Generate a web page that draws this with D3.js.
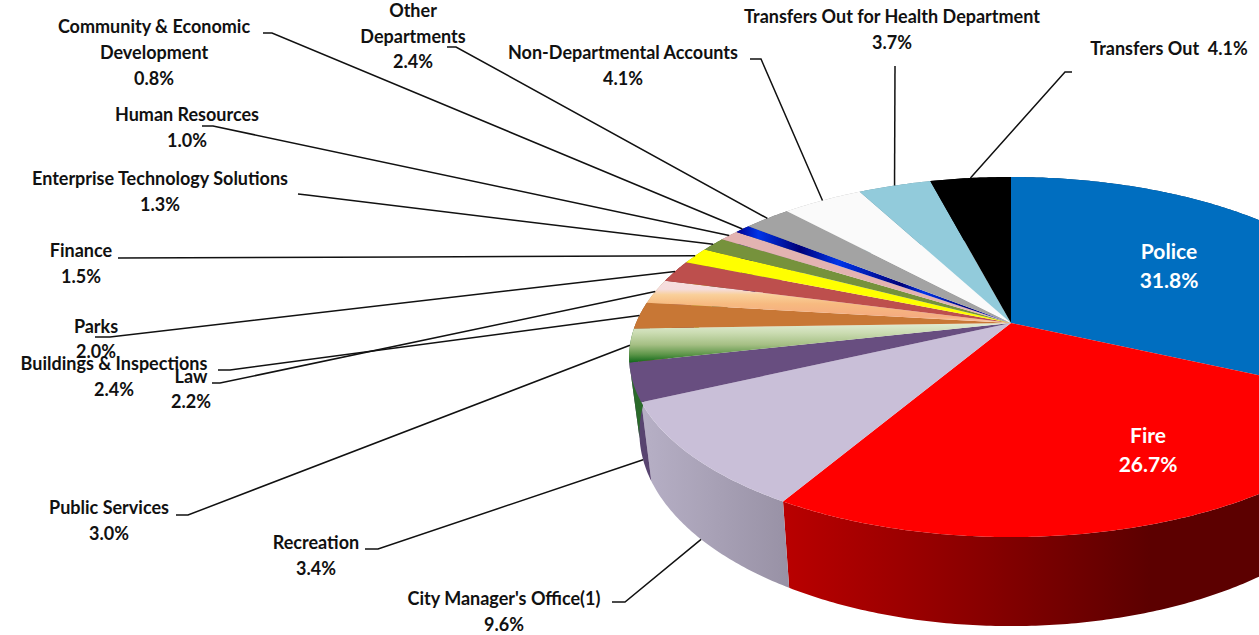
<!DOCTYPE html>
<html><head><meta charset="utf-8">
<script src="https://cdnjs.cloudflare.com/ajax/libs/d3/7.8.5/d3.min.js"></script>
<style>html,body{margin:0;padding:0;background:#fff;overflow:hidden}svg{display:block}
text{font-family:Lato,"Open Sans",sans-serif;font-weight:700;fill:#111}</style>
</head><body><div id="chart"></div>
<script>
// ---------- data ----------
const categories = ["Police","Fire","City Manager's Office(1)","Recreation","Public Services","Buildings & Inspections","Law","Parks","Finance","Enterprise Technology Solutions","Human Resources","Community & Economic Development","Other Departments","Non-Departmental Accounts","Transfers Out for Health Department","Transfers Out"];
const shares = [31.8,26.7,9.6,3.4,3.0,2.4,2.2,2.0,1.5,1.3,1.0,0.8,2.4,4.1,3.7,4.1];
const shareLabels = shares.map(d => d.toFixed(1) + "%");

// ---------- style ----------
const faceFills = ["#006ec0","#ff0000","#c9bfd8","#684e80","url(#gGreen)","#c87735","url(#gPeach)","#bd4f4d","#ffff00","#76923c","#e3b3b1","url(#gBlue)","#a3a3a3","#fafafa","#92cbdb","#000000"];
const wallFills = ["#003a66","url(#wRed)","url(#wLav)","#584470","#2a6a2a","#8a5020","#c09060","#803432","#a0a000","#4e6228","#a07a78","#000070","#707070","#b0b0b0","#60909c","#000000"];

// label layout: text-line centres, leader start and elbow; the leader end comes from the pie
const labelLayout = [
 {lines:["Police"],cx:1169,ys:[252,281],white:true},
 {lines:["Fire"],cx:1148,ys:[436,465],white:true},
 {lines:["City Manager's Office(1)"],cx:504,ys:[599,625],lead:[[612,602],[625,602]],wall:true},
 {lines:["Recreation"],cx:316,ys:[543,569],lead:[[365,549],[378,549]],wall:true},
 {lines:["Public Services"],cx:109,ys:[508,534],lead:[[176,515],[188,515]]},
 {lines:["Buildings & Inspections"],cx:114,ys:[364,390],lead:[[218,370],[230,370]]},
 {lines:["Law"],cx:191,ys:[377,402],lead:[[212,383],[220,383]]},
 {lines:["Parks"],cx:96,ys:[327,352],lead:[[95,337],[110,337]]},
 {lines:["Finance"],cx:81,ys:[251,277],lead:[[118,258],[410,257]]},
 {lines:["Enterprise Technology Solutions"],cx:160,ys:[179,205],lead:[[298,194],[307,195]]},
 {lines:["Human Resources"],cx:187,ys:[115,141],lead:[[202,126],[213,126]]},
 {lines:["Community & Economic","Development"],cx:154,ys:[27,53,79],lead:[[263,33],[272,33]]},
 {lines:["Other","Departments"],cx:413,ys:[11,37,62],lead:[[447,47],[456,47]]},
 {lines:["Non-Departmental Accounts"],cx:623,ys:[53,79],lead:[[750,59],[761,59]]},
 {lines:["Transfers Out for Health Department"],cx:892,ys:[17,43],lead:[[895,66],[895,66]]},
 {lines:["Transfers Out  4.1%"],cx:1169,ys:[49],lead:[[1072,72],[1065,72]],inline:true}
];

// ---------- perspective pie ----------
const W = 1259, H = 635;
const cx = 1011, cy = 323, k = 0.189, A = 173.6, B = 375;
const rimTop = t => {
  const u = Math.sin(t), v = -Math.cos(t), d = 1 - k * v;
  return [cx + B * u / d, cy + A * v / d];
};
const rimLow = t => {
  const [x, y] = rimTop(t);
  return [cx + 0.973 * (x - cx), y + 79 + (y - 403) * 0.075];
};
const pieGen = d3.pie().sort(null).value(d => d);
const arcs = pieGen(shares);
const samples = (a, b) => {
  const n = Math.max(4, Math.ceil((b - a) / 0.01));
  return d3.range(n + 1).map(i => a + (b - a) * i / n);
};
const line = d3.line();

const svg = d3.select("#chart").append("svg").attr("width", W).attr("height", H).attr("viewBox", `0 0 ${W} ${H}`);
const defs = svg.append("defs");
function grad(id, attrs, stops) {
  const g = defs.append("linearGradient").attr("id", id);
  Object.entries(attrs).forEach(([a, v]) => g.attr(a, v));
  stops.forEach(([o, c]) => g.append("stop").attr("offset", o).attr("stop-color", c));
}
grad("gGreen", {x1:0,y1:0,x2:0,y2:1}, [[0,"#e2ecd4"],[.25,"#cbdcb2"],[.55,"#a5bf84"],[.8,"#5c9548"],[1,"#10681a"]]);
grad("gPeach", {x1:0,y1:0,x2:0,y2:1}, [[0,"#f6dede"],[.2,"#f5dcdc"],[.33,"#f9d09a"],[.55,"#f7ba80"],[.85,"#f5ab80"],[1,"#fad0aa"]]);
grad("gBlue", {x1:0,y1:0,x2:1,y2:0}, [[0,"#000090"],[.08,"#0035e8"],[.23,"#000078"],[.37,"#0035e8"],[.6,"#000078"],[.68,"#0035e8"],[.85,"#000078"],[1,"#0035e8"]]);
grad("wRed", {gradientUnits:"userSpaceOnUse",x1:785,y1:0,x2:1150,y2:0}, [[0,"#b90000"],[.5,"#8c0000"],[1,"#5c0000"]]);
grad("wLav", {gradientUnits:"userSpaceOnUse",x1:645,y1:0,x2:790,y2:0}, [[0,"#b6afc5"],[1,"#9891a5"]]);

// side walls
svg.append("g").selectAll("path").data(arcs).join("path")
  .attr("d", d => {
    const ts = samples(d.startAngle, d.endAngle);
    return line([...ts.map(rimTop), ...ts.slice().reverse().map(rimLow)]) + "Z";
  })
  .attr("fill", (d, i) => wallFills[i]);

// top faces
svg.append("g").selectAll("path").data(arcs).join("path")
  .attr("d", d => line([[cx, cy], ...samples(d.startAngle, d.endAngle).map(rimTop)]) + "Z")
  .attr("fill", (d, i) => faceFills[i]);

// leader lines
const leaders = arcs.map((d, i) => ({d, lay: labelLayout[i]})).filter(o => o.lay.lead);
svg.append("g").selectAll("path").data(leaders).join("path")
  .attr("d", o => {
    const mid = (o.d.startAngle + o.d.endAngle) / 2;
    return line([...o.lay.lead, (o.lay.wall ? rimLow : rimTop)(mid)]);
  })
  .attr("fill", "none").attr("stroke", "#111").attr("stroke-width", 1.5);

// labels
const labels = svg.append("g");
labelLayout.forEach((lay, i) => {
  const rows = lay.inline ? lay.lines : [...lay.lines, shareLabels[i]];
  rows.forEach((row, j) => {
    labels.append("text").attr("x", lay.cx).attr("y", lay.ys[j] + (lay.white ? 7 : 6))
      .attr("text-anchor", "middle")
      .style("white-space", "pre")
      .style("font-size", lay.white ? "21px" : "18px")
      .style("fill", lay.white ? "#fff" : "#111").text(row);
  });
});
</script></body></html>
